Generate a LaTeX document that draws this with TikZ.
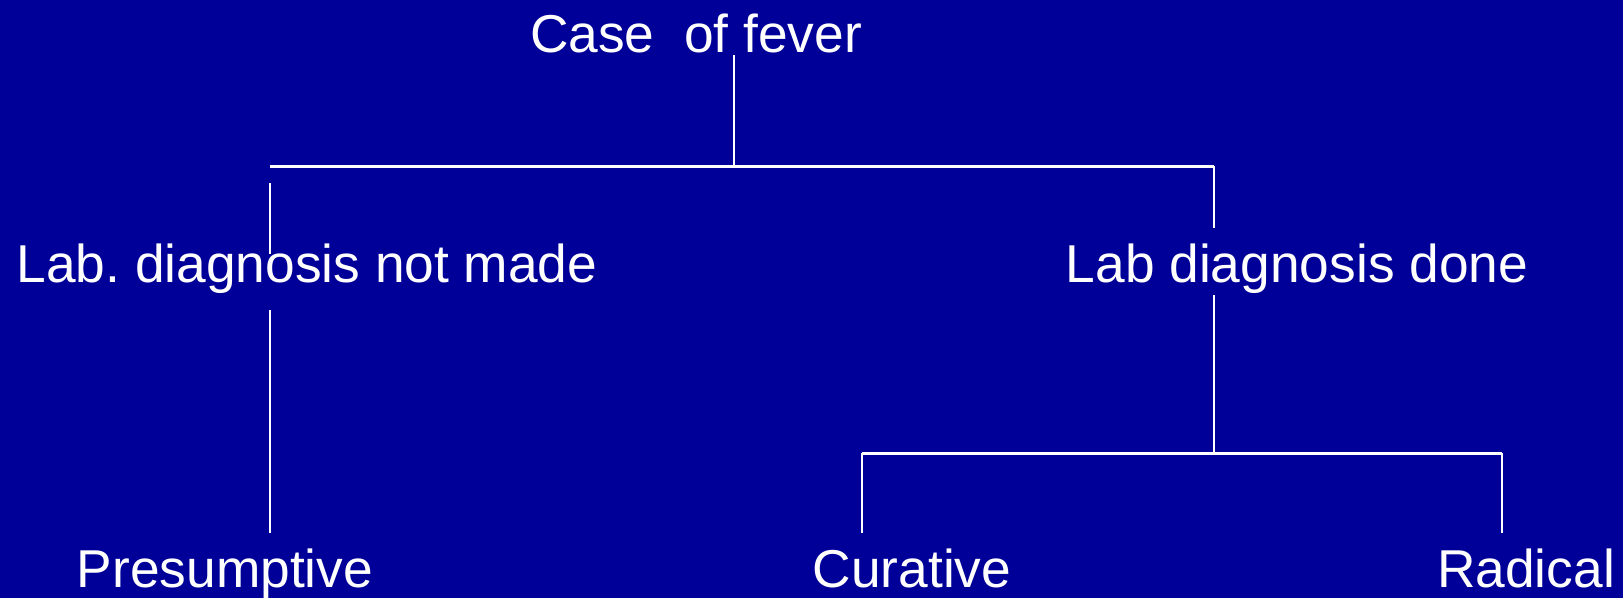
\documentclass[tikz,border=0pt]{standalone}
\usepackage{fontspec}
\setmainfont{Liberation Sans}
\definecolor{slideblue}{RGB}{0,0,153}
\frenchspacing

\begin{document}
\begin{tikzpicture}[x=1pt,y=-1pt,
    txt/.style={text=white,font=\fontsize{53.3}{60}\selectfont,inner sep=0pt,anchor=base},
    stem/.style={draw=white,line width=2pt},
    bar/.style={draw=white,line width=3pt}]
    % Fundo
    \fill[slideblue] (0,0) rectangle (1623,598);
    % Textos
    \node[txt] (case) at (696,52) {Case\ \ of fever};
    \node[txt] (notmade) at (307,282) {Lab. diagnosis not made};
    \node[txt] (done) at (1297,282) {Lab diagnosis done};
    \node[txt] (presump) at (225,587) {Presumptive};
    \node[txt] (curative) at (912,587) {Curative};
    \node[txt] (radical) at (1526,587) {Radical};
    % Pontos de ligacao
    \coordinate (caseout) at (734,55);
    \coordinate (split) at (734,166);
    \coordinate (leftend) at (270,166);
    \coordinate (rightend) at (1214,166);
    \coordinate (notmadein) at (270,183);
    \coordinate (notmadeabove) at (270,254);
    \coordinate (notmadeout) at (270,310);
    \coordinate (presumpin) at (270,533);
    \coordinate (doneabove) at (1214,228);
    \coordinate (doneout) at (1214,295);
    \coordinate (split2) at (1214,453);
    \coordinate (curend) at (862,453);
    \coordinate (radend) at (1502,453);
    \coordinate (curin) at (862,533);
    \coordinate (radin) at (1502,533);
    % Ramos
    \draw[stem] (caseout) -- (split);
    \draw[bar] (leftend) -- (rightend);
    \draw[stem] (notmadein) -- (notmadeabove);
    \draw[stem] (rightend) -- (doneabove);
    \draw[stem] (notmadeout) -- (presumpin);
    \draw[stem] (doneout) -- (split2);
    \draw[bar] (curend) -- (radend);
    \draw[stem] (curend) -- (curin);
    \draw[stem] (radend) -- (radin);
\end{tikzpicture}
\end{document}
